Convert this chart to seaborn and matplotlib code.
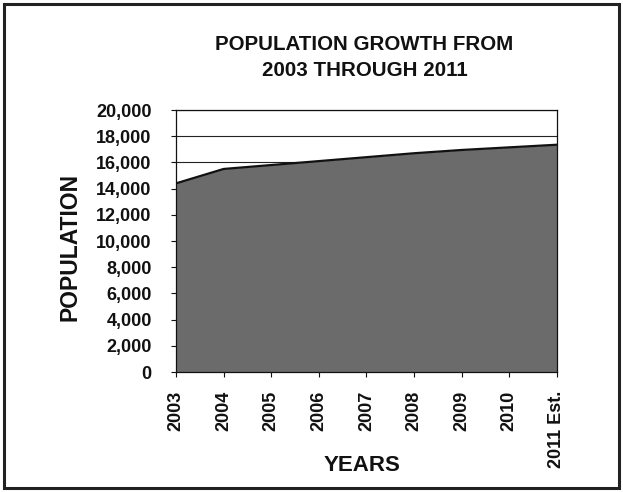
import matplotlib
matplotlib.use("Agg")
import matplotlib.pyplot as plt
import seaborn as sns
import pandas as pd
from matplotlib.patches import Rectangle

years = ["2003", "2004", "2005", "2006", "2007", "2008", "2009", "2010", "2011 Est."]
population = [14400, 15500, 15800, 16100, 16400, 16700, 16950, 17150, 17350]
y_ticks = list(range(0, 20001, 2000))

df = pd.DataFrame({"year": years, "population": population})

sns.set_theme(style="white")
plt.rcParams["font.family"] = ["Liberation Sans", "DejaVu Sans"]
plt.rcParams["font.weight"] = "bold"

fig = plt.figure(figsize=(6.23, 4.92), dpi=100)
ax = fig.add_axes([0.2825, 0.2439, 0.6115, 0.5325])

ax.fill_between(df["year"], 0, df["population"], color="#6b6b6b", linewidth=0, zorder=2)
sns.lineplot(data=df, x="year", y="population", ax=ax, color="#111111",
             linewidth=1.6, zorder=3, sort=False)

ax.set_xlim(0, len(years) - 1)
ax.set_ylim(0, 20000)
ax.set_yticks(y_ticks)
ax.set_yticklabels([f"{v:,}" for v in y_ticks], fontsize=13, fontweight="bold")
ax.set_xticks(range(len(years)))
ax.set_xticklabels(years, rotation=90, fontsize=13, fontweight="bold")

for v in y_ticks:
    ax.axhline(v, color="#222222", linewidth=0.8, zorder=1)

for side in ["left", "right", "top", "bottom"]:
    ax.spines[side].set_visible(True)
    ax.spines[side].set_color("#111111")
    ax.spines[side].set_linewidth(0.9)

ax.tick_params(axis="both", which="major", direction="out", length=3.5, width=0.8,
               color="#111111", labelcolor="#111111")
ax.tick_params(axis="y", left=True, pad=14)
ax.tick_params(axis="x", bottom=True, pad=10)

ax.set_xlabel("YEARS", fontsize=16, fontweight="bold", color="#111111")
ax.xaxis.label.set_va("center")
ax.xaxis.set_label_coords(0.488, -0.355)
ax.set_ylabel("POPULATION", fontsize=16.5, fontweight="bold", color="#111111")
ax.yaxis.label.set_va("center")
ax.yaxis.set_label_coords(-0.278, 0.477)

fig.text(0.585, 0.883, "POPULATION GROWTH FROM\n2003 THROUGH 2011", ha="center",
         va="center", fontsize=14.8, fontweight="bold", color="#111111", linespacing=1.42)

# outer frame around the whole figure
fig.patches.append(Rectangle((0.007, 0.009), 0.986, 0.982, transform=fig.transFigure,
                             fill=False, edgecolor="#222222", linewidth=2.2))

fig.savefig("out.png", dpi=100, facecolor="white")
